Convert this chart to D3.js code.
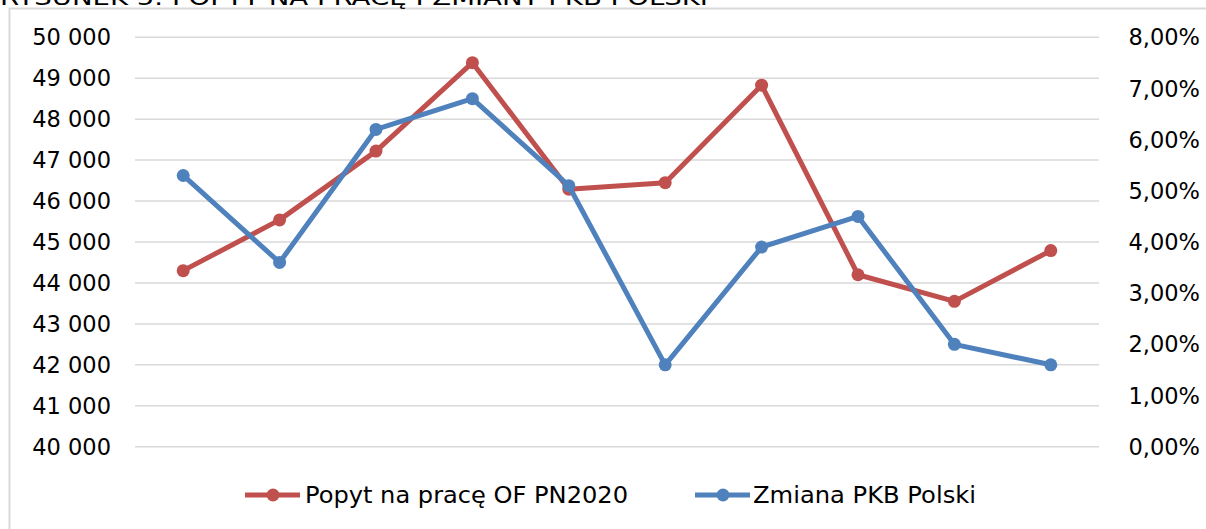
<!DOCTYPE html>
<html>
<head>
<meta charset="utf-8">
<script src="https://cdn.jsdelivr.net/npm/d3@7"></script>
<style>
  body { margin: 0; background: #fff; }
  text { font-family: "DejaVu Sans", Verdana, sans-serif; fill: #000; }
</style>
</head>
<body>
<div id="chart"></div>
<script>
// values (years are not shown on the chart)
const categories = ["2004", "2005", "2006", "2007", "2008", "2009", "2010", "2011", "2012", "2013"];
const popyt = [44300, 45540, 47220, 49380, 46290, 46450, 48830, 44200, 43550, 44790];
const pkb = [5.3, 3.6, 6.2, 6.8, 5.1, 1.6, 3.9, 4.5, 2.0, 1.6];
const leftTicks = [40000, 41000, 42000, 43000, 44000, 45000, 46000, 47000, 48000, 49000, 50000];
const rightTicks = [0, 1, 2, 3, 4, 5, 6, 7, 8];
const seriesNames = ["Popyt na pracę OF PN2020", "Zmiana PKB Polski"];
const colors = ["#C0504D", "#4F81BD"];

const width = 1206, height = 529;
const plot = { left: 135, right: 1099, top: 37.3, bottom: 446.7 };

const svg = d3.select("#chart").append("svg")
  .attr("width", width).attr("height", height);

// outer frame (only top/left visible in the crop)
svg.append("rect")
  .attr("x", 9.5).attr("y", 8.5)
  .attr("width", 1220).attr("height", 540)
  .attr("fill", "none").attr("stroke", "#d9d9d9").attr("stroke-width", 2);

// title, mostly clipped at the top
svg.append("text")
  .attr("x", 0).attr("y", 5)
  .attr("font-size", "22px")
  .attr("textLength", 708).attr("lengthAdjust", "spacingAndGlyphs")
  .text("RYSUNEK 5. POPYT NA PRACĘ I ZMIANY PKB POLSKI");

const x = d3.scaleBand().domain(categories).range([plot.left, plot.right]);
const yL = d3.scaleLinear().domain([40000, 50000]).range([plot.bottom, plot.top]);
const yR = d3.scaleLinear().domain([0, 8]).range([plot.bottom, plot.top]);

const fmtL = d => d3.format(",")(d).replace(",", " ");
const fmtR = d => d.toFixed(2).replace(".", ",") + "%";

// gridlines
svg.append("g").selectAll("line").data(leftTicks).join("line")
  .attr("x1", plot.left).attr("x2", plot.right)
  .attr("y1", d => yL(d)).attr("y2", d => yL(d))
  .attr("stroke", "#d9d9d9").attr("stroke-width", 1.5);

// left axis labels
svg.append("g").selectAll("text").data(leftTicks).join("text")
  .attr("x", 111).attr("y", d => yL(d))
  .attr("dy", "0.36em")
  .attr("text-anchor", "end")
  .attr("font-size", "22.5px")
  .text(fmtL);

// right axis labels
svg.append("g").selectAll("text").data(rightTicks).join("text")
  .attr("x", 1200).attr("y", d => yR(d))
  .attr("dy", "0.36em")
  .attr("text-anchor", "end")
  .attr("font-size", "22.5px")
  .text(fmtR);

const cx = d => x(d) + x.bandwidth() / 2;

const series = [
  { vals: popyt, y: yL, color: colors[0] },
  { vals: pkb, y: yR, color: colors[1] }
];

series.forEach(s => {
  const pts = categories.map((c, i) => [cx(c), s.y(s.vals[i])]);
  svg.append("path")
    .attr("d", d3.line()(pts))
    .attr("fill", "none").attr("stroke", s.color)
    .attr("stroke-width", 5).attr("stroke-linejoin", "round");
  svg.append("g").selectAll("circle").data(pts).join("circle")
    .attr("cx", d => d[0]).attr("cy", d => d[1])
    .attr("r", 6.5).attr("fill", s.color);
});

// legend
const legend = [
  { x: 245, textX: 305, w: 323 },
  { x: 695, textX: 753, w: 223 }
];
legend.forEach((l, i) => {
  const g = svg.append("g");
  g.append("line")
    .attr("x1", l.x).attr("x2", l.x + 55)
    .attr("y1", 495).attr("y2", 495)
    .attr("stroke", colors[i]).attr("stroke-width", 5);
  g.append("circle")
    .attr("cx", l.x + 28).attr("cy", 495).attr("r", 6.5)
    .attr("fill", colors[i]);
  g.append("text")
    .attr("x", l.textX).attr("y", 503.3)
    .attr("font-size", "22.5px")
    .attr("textLength", l.w).attr("lengthAdjust", "spacingAndGlyphs")
    .text(seriesNames[i]);
});
</script>
</body>
</html>
